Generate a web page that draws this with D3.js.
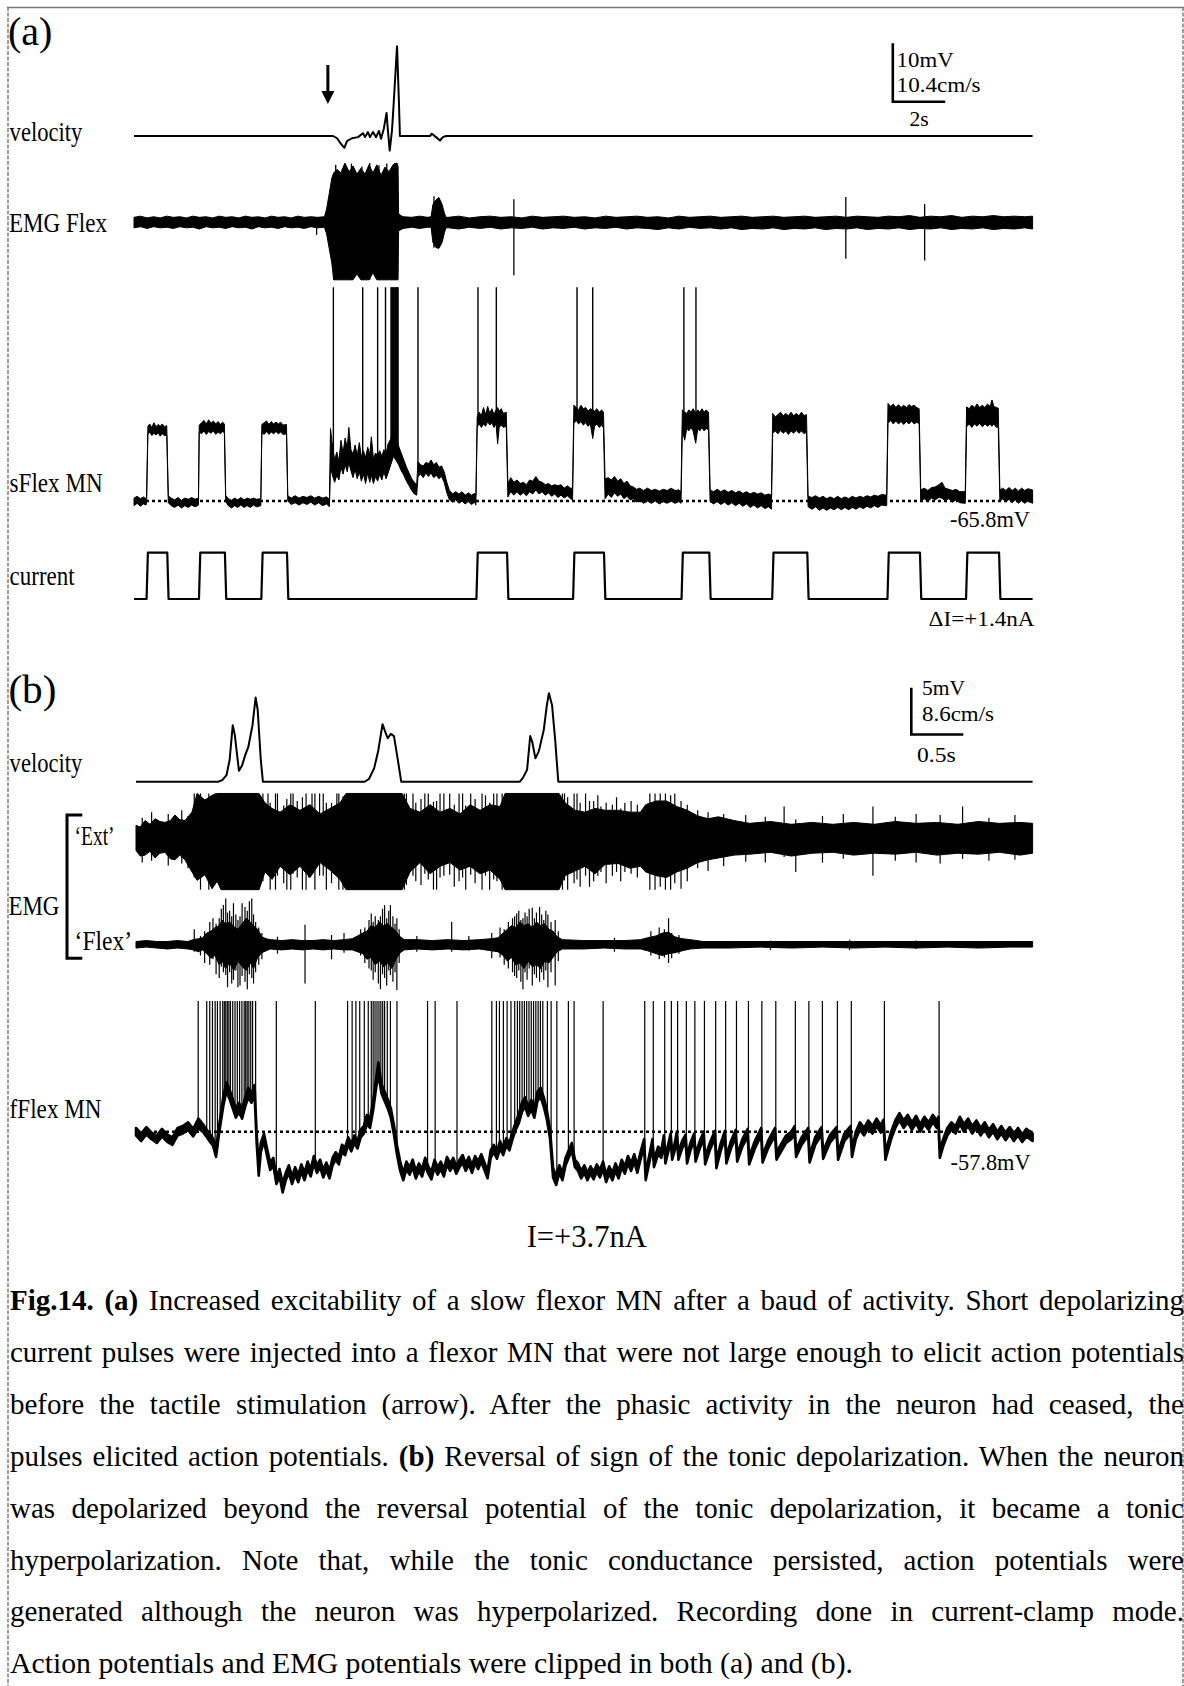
<!DOCTYPE html>
<html><head><meta charset="utf-8">
<script src="https://cdn.jsdelivr.net/npm/d3@7"></script>
<style>
html,body{margin:0;padding:0;background:#fff;}
svg{display:block;}
text{font-family:"Liberation Serif","Times New Roman",serif;fill:#000;}
</style></head><body>
<svg id="fig" width="1184" height="1686"></svg>
<script>
// ===================== DATA =====================
// Panel (a): time in s, membrane potential in mV, velocity in cm/s, current in nA
const durationA = 34.3;
const restA = -65.8;
const spikeClipA = -29.2;
const dIA = 1.4;
const stimTimeA = 7.40;
const barA_mV = 10, barA_vel = 10.4, barA_s = 2;

const velA = [[0,0],[7.60,0],[7.75,-0.4],[7.90,-1.4],[8.03,-2.1],[8.13,-0.9],[8.32,-0.4],[8.55,-0.2],[8.74,0.5],[8.82,-0.2],[8.93,0.7],[9.01,-0.2],[9.12,0.7],[9.24,-0.2],[9.35,0.9],[9.43,-0.5],[9.54,1.4],[9.64,4.1],[9.69,1.1],[9.76,-2.6],[9.85,1.1],[9.92,6.4],[10.04,16.0],[10.11,6.4],[10.15,0],[11.30,0],[11.37,0.4],[11.53,-0.2],[11.68,-0.8],[11.79,-0.2],[11.91,0],[34.3,0]];

const emgA = [[0.00,-1.0,0.8],[0.25,-0.8,1.0],[0.50,-1.1,0.7],[0.75,-0.8,0.9],[1.00,-1.0,0.7],[1.25,-0.9,1.0],[1.50,-1.1,0.8],[1.75,-0.8,0.9],[2.00,-1.0,0.7],[2.25,-0.9,1.0],[2.50,-1.2,0.8],[2.75,-0.8,0.9],[3.00,-1.0,0.7],[3.25,-0.9,1.0],[3.50,-1.1,0.8],[3.75,-0.8,0.9],[4.00,-1.0,0.7],[4.25,-0.9,1.0],[4.50,-1.2,0.8],[4.75,-0.8,0.9],[5.00,-1.0,0.7],[5.25,-0.9,1.0],[5.50,-1.1,0.8],[5.75,-0.8,0.9],[6.00,-1.0,0.7],[6.25,-0.9,1.0],[6.50,-1.1,0.8],[6.75,-0.8,0.9],[7.00,-1.0,0.8],[7.27,-0.9,0.9],
[7.35,-2.0,2.2],[7.45,-4.5,4.8],[7.55,-7.0,7.5],[7.62,-9.9,8.4],[7.75,-9.9,9.0],[7.90,-9.9,8.4],[8.05,-9.9,10.1],[8.21,-9.9,8.6],[8.36,-9.9,9.6],[8.51,-8.9,8.2],[8.66,-9.9,9.2],[8.82,-9.9,8.2],[8.97,-9.9,9.8],[9.12,-8.7,8.4],[9.27,-9.9,9.8],[9.43,-9.9,8.0],[9.58,-9.9,9.4],[9.73,-9.9,8.6],[9.89,-9.9,9.8],[10.04,-9.9,10.1],[10.08,-9.9,9.5],
[10.10,-1.6,1.5],[10.15,-1.4,1.2],[10.27,-1.1,0.9],[10.6,-0.9,0.8],[10.9,-1.1,1.0],[11.2,-0.9,0.8],[11.34,-0.9,0.9],
[11.41,-3.5,3.0],[11.53,-4.4,3.8],[11.64,-4.5,4.2],[11.76,-3.5,3.0],[11.85,-1.8,1.5],[11.91,-1.0,0.8],
[12.0,-1.0,0.8],[12.4,-1.2,1.0],[12.8,-0.9,0.7],[13.2,-1.1,0.9],[13.6,-0.9,1.0],[14.0,-1.2,0.8],[14.4,-1.0,0.9],[14.8,-1.1,0.7],[15.2,-0.9,1.0],[15.6,-1.2,0.8],[16.0,-1.0,0.9],[16.4,-1.1,1.0],[16.8,-0.9,0.8],[17.2,-1.2,0.9],[17.6,-1.0,0.7],[18.0,-1.1,1.0],[18.4,-0.9,0.8],[18.8,-1.2,0.9],[19.2,-1.0,1.0],[19.6,-1.1,0.8],[20.0,-1.3,0.9],[20.4,-1.0,0.7],[20.8,-1.2,1.0],[21.2,-0.9,0.8],[21.6,-1.1,0.9],[22.0,-1.0,1.0],[22.4,-1.2,0.8],[22.8,-1.0,0.9],[23.2,-1.3,1.0],[23.6,-1.1,0.8],[24.0,-1.2,0.9],[24.4,-1.0,1.0],[24.8,-1.3,0.8],[25.2,-1.1,0.9],[25.6,-1.2,1.0],[26.0,-1.0,0.8],[26.4,-1.3,0.9],[26.8,-1.1,1.0],[27.2,-1.2,0.8],[27.6,-1.0,1.0],[28.0,-1.3,0.9],[28.4,-1.1,0.8],[28.8,-1.2,1.0],[29.2,-1.0,0.9],[29.6,-1.3,1.1],[30.0,-1.1,0.8],[30.4,-1.2,1.0],[30.8,-1.0,0.9],[31.2,-1.3,1.1],[31.6,-1.1,0.8],[32.0,-1.2,1.0],[32.4,-1.0,0.9],[32.8,-1.3,1.1],[33.2,-1.1,0.9],[33.6,-1.2,1.0],[34.0,-1.0,0.9],[34.3,-1.2,1.0]];

const emgASpikes = [[6.97,-2.2,0.5],[7.70,-9.9,9.8],[7.95,-9.9,9.0],[8.30,-9.9,10.0],[8.70,-9.9,9.5],[9.00,-9.9,10.1],[9.35,-9.9,9.7],[9.65,-9.9,10.0],[9.95,-9.9,10.1],[11.45,-4.4,4.4],[14.50,-9.1,3.9],[27.17,-6.3,4.3],[30.18,-6.6,3.1]];

const sflexA = [[0.00,-66.6,-65.3],[0.12,-66.2,-65.0],[0.24,-66.7,-65.4],[0.36,-66.3,-65.1],[0.46,-66.5,-65.4],
[0.48,-66.2,-65.2],[0.53,-54.4,-53.0],[0.60,-54.0,-52.6],[0.68,-54.6,-53.2],[0.76,-54.2,-52.4],[0.84,-54.5,-53.1],[0.92,-54.1,-52.7],[1.00,-54.7,-53.0],[1.08,-54.3,-52.6],[1.16,-54.6,-53.1],[1.25,-54.5,-52.9],
[1.31,-66.1,-64.9],[1.42,-66.6,-65.3],[1.55,-66.9,-65.6],[1.68,-66.5,-65.2],[1.81,-67.0,-65.7],[1.94,-66.6,-65.3],[2.07,-66.9,-65.5],[2.20,-66.5,-65.2],[2.33,-66.8,-65.5],[2.46,-66.5,-65.3],
[2.49,-54.0,-52.8],[2.58,-54.3,-52.4],[2.67,-53.8,-52.0],[2.76,-54.4,-52.6],[2.85,-53.9,-51.9],[2.94,-54.2,-52.5],[3.03,-53.8,-52.1],[3.12,-54.4,-52.6],[3.21,-54.0,-52.2],[3.30,-54.3,-52.7],[3.38,-53.9,-52.3],[3.45,-54.1,-52.6],
[3.50,-65.9,-64.9],[3.60,-66.6,-65.4],[3.72,-67.0,-65.7],[3.84,-66.6,-65.3],[3.96,-66.9,-65.6],[4.08,-66.5,-65.2],[4.20,-66.9,-65.6],[4.32,-66.6,-65.3],[4.44,-66.9,-65.5],[4.56,-66.5,-65.3],[4.68,-66.8,-65.5],[4.84,-66.6,-65.4],
[4.88,-54.1,-52.7],[4.97,-54.4,-52.4],[5.06,-53.9,-52.1],[5.15,-54.4,-52.7],[5.24,-54.0,-52.2],[5.33,-54.3,-52.6],[5.42,-53.9,-52.3],[5.51,-54.3,-52.6],[5.60,-54.0,-52.3],[5.69,-54.4,-52.8],[5.82,-54.3,-52.7],
[5.87,-65.8,-64.9],[6.00,-66.4,-65.3],[6.15,-66.1,-64.9],[6.30,-66.5,-65.3],[6.45,-66.1,-65.0],[6.60,-66.4,-65.2],[6.75,-66.0,-64.9],[6.90,-66.5,-65.3],[7.05,-66.1,-65.0],[7.20,-66.6,-65.3],[7.35,-66.3,-65.1],[7.46,-66.8,-65.5],
[7.50,-60.0,-53.4],[7.58,-61.5,-56.5],[7.66,-62.6,-58.8],[7.74,-61.4,-57.4],[7.82,-62.2,-59.0],[7.90,-60.0,-55.4],[7.98,-61.2,-57.6],[8.06,-59.6,-55.0],[8.14,-60.8,-56.8],[8.20,-59.2,-53.2],[8.28,-60.6,-57.0],[8.36,-61.8,-57.8],[8.44,-60.4,-56.2],[8.52,-62.0,-58.0],[8.60,-60.8,-55.8],[8.68,-62.4,-58.2],[8.76,-61.2,-57.2],[8.84,-62.8,-58.4],[8.92,-61.0,-56.6],[9.00,-62.6,-57.8],[9.06,-61.4,-54.8],[9.14,-62.8,-58.6],[9.22,-61.6,-57.6],[9.30,-62.4,-58.0],[9.38,-61.2,-57.2],[9.46,-62.2,-58.2],[9.54,-60.8,-57.0],[9.62,-62.0,-57.8],[9.70,-61.0,-56.0],[9.80,-59.6,-55.2],[9.90,-58.2,-53.6],[10.00,-58.8,-54.4],[10.10,-59.6,-56.4],[10.20,-60.6,-57.6],[10.30,-61.4,-58.8],[10.40,-62.4,-60.0],[10.50,-63.2,-61.0],[10.60,-64.0,-62.0],[10.70,-64.6,-62.6],[10.79,-64.8,-63.0],
[10.84,-61.6,-59.1],[10.94,-61.2,-59.6],[11.04,-61.8,-59.8],[11.14,-61.0,-59.2],[11.24,-61.6,-59.4],[11.34,-61.0,-58.8],[11.44,-61.8,-59.6],[11.54,-61.4,-59.2],[11.64,-62.0,-60.0],[11.74,-61.6,-59.8],[11.84,-62.6,-60.8],[11.94,-64.4,-62.6],[12.04,-65.6,-64.0],[12.16,-66.0,-64.6],[12.28,-65.6,-64.2],[12.40,-66.2,-64.6],[12.52,-65.8,-64.2],[12.64,-66.3,-64.8],[12.76,-65.9,-64.4],[12.88,-66.4,-64.8],[13.00,-66.0,-64.5],[13.05,-66.5,-64.8],
[13.10,-53.1,-51.4],[13.18,-52.6,-50.6],[13.26,-53.2,-51.2],[13.34,-52.6,-49.8],[13.42,-53.0,-51.0],[13.50,-52.2,-49.6],[13.58,-52.8,-50.8],[13.66,-52.4,-50.0],[13.74,-53.2,-51.0],[13.82,-52.6,-50.2],[13.88,-56.0,-49.8],[13.94,-53.2,-50.4],[14.02,-52.8,-50.0],[14.10,-53.2,-50.8],[14.21,-53.0,-50.6],
[14.27,-65.1,-62.8],[14.38,-64.2,-61.8],[14.50,-64.8,-62.6],[14.62,-64.2,-62.2],[14.74,-64.8,-62.8],[14.86,-64.4,-62.6],[14.98,-64.9,-63.0],[15.10,-64.2,-62.2],[15.22,-64.6,-62.4],[15.34,-63.9,-61.6],[15.46,-64.6,-62.4],[15.58,-64.2,-62.6],[15.70,-64.8,-63.0],[15.82,-64.4,-62.8],[15.94,-65.0,-63.2],[16.06,-64.6,-63.0],[16.18,-65.2,-63.2],[16.30,-64.8,-63.0],[16.42,-65.3,-63.6],[16.54,-64.9,-63.2],[16.66,-65.4,-63.6],[16.74,-65.6,-63.6],
[16.79,-52.5,-49.4],[16.88,-52.0,-49.8],[16.97,-52.6,-50.2],[17.06,-52.2,-49.4],[17.15,-52.8,-50.0],[17.24,-52.4,-49.8],[17.33,-53.0,-50.4],[17.42,-52.6,-50.0],[17.51,-55.1,-50.2],[17.58,-53.0,-50.4],[17.67,-52.6,-50.0],[17.76,-53.2,-50.6],[17.85,-52.8,-50.2],[17.92,-53.3,-50.6],
[17.98,-65.4,-62.0],[18.10,-64.6,-61.8],[18.22,-65.2,-62.2],[18.34,-64.4,-61.6],[18.46,-65.0,-62.4],[18.58,-64.6,-62.0],[18.70,-65.4,-62.8],[18.82,-65.0,-62.4],[18.94,-65.6,-63.2],[19.06,-65.4,-63.4],[19.18,-66.0,-63.8],[19.30,-65.6,-63.6],[19.45,-66.2,-64.0],[19.60,-65.8,-63.6],[19.75,-66.2,-64.0],[19.90,-65.8,-63.8],[20.05,-66.3,-64.1],[20.20,-65.9,-63.8],[20.35,-66.2,-64.0],[20.50,-65.8,-63.6],[20.65,-66.2,-64.0],[20.80,-65.9,-63.9],[20.88,-66.2,-64.2],
[20.93,-53.6,-50.2],[21.02,-55.4,-50.6],[21.10,-53.4,-50.8],[21.18,-53.8,-50.2],[21.26,-53.2,-50.6],[21.34,-53.8,-50.0],[21.44,-55.9,-50.8],[21.52,-53.4,-50.2],[21.60,-53.8,-50.6],[21.68,-53.2,-50.0],[21.76,-53.8,-50.6],[21.84,-53.4,-50.2],[21.93,-53.6,-50.6],
[21.99,-65.9,-63.9],[22.12,-66.3,-64.2],[22.26,-65.9,-63.8],[22.40,-66.4,-64.2],[22.54,-66.0,-63.9],[22.68,-66.5,-64.3],[22.82,-66.1,-64.0],[22.96,-66.6,-64.4],[23.10,-66.2,-64.1],[23.24,-66.7,-64.5],[23.38,-66.3,-64.2],[23.52,-66.9,-64.6],[23.66,-66.5,-64.3],[23.80,-67.0,-64.6],[23.94,-66.6,-64.4],[24.08,-67.1,-64.8],[24.22,-66.8,-64.6],[24.33,-67.2,-64.8],
[24.38,-54.2,-50.8],[24.48,-53.8,-51.4],[24.58,-54.3,-51.0],[24.68,-53.7,-50.6],[24.78,-54.2,-51.2],[24.88,-53.8,-50.8],[24.98,-54.4,-51.2],[25.08,-53.8,-50.6],[25.18,-54.2,-51.2],[25.28,-53.7,-50.8],[25.38,-54.2,-51.2],[25.48,-53.8,-50.6],[25.58,-54.3,-51.2],[25.67,-54.0,-51.0],
[25.73,-66.8,-65.0],[25.88,-67.2,-65.2],[26.02,-66.8,-64.9],[26.16,-67.4,-65.3],[26.30,-67.0,-65.0],[26.44,-67.4,-65.4],[26.58,-67.0,-65.1],[26.72,-67.3,-65.4],[26.86,-66.9,-65.0],[27.00,-67.3,-65.4],[27.14,-66.9,-65.1],[27.28,-67.3,-65.4],[27.42,-66.9,-65.0],[27.56,-67.2,-65.3],[27.70,-66.8,-65.0],[27.84,-67.1,-65.2],[27.98,-66.7,-64.9],[28.12,-67.0,-65.1],[28.26,-66.6,-64.8],[28.40,-66.9,-65.0],[28.54,-66.5,-64.7],[28.73,-66.6,-64.8],
[28.78,-52.5,-49.1],[28.88,-52.0,-49.6],[28.98,-52.6,-49.2],[29.08,-52.1,-49.8],[29.18,-52.6,-49.3],[29.28,-52.2,-49.8],[29.38,-52.7,-49.4],[29.48,-52.2,-49.8],[29.58,-52.6,-49.3],[29.68,-52.1,-49.6],[29.78,-52.6,-49.4],[29.88,-52.3,-49.8],[29.97,-52.6,-50.0],
[30.03,-65.9,-63.9],[30.16,-65.4,-63.6],[30.30,-65.9,-64.0],[30.44,-65.3,-63.5],[30.58,-65.6,-63.4],[30.72,-65.2,-63.0],[30.84,-65.3,-62.6],[30.96,-65.8,-63.6],[31.10,-65.4,-63.8],[31.24,-66.0,-64.0],[31.38,-65.6,-63.8],[31.52,-66.1,-64.2],[31.73,-66.2,-64.2],
[31.78,-53.1,-49.7],[31.88,-52.6,-50.0],[31.98,-53.2,-49.4],[32.08,-52.6,-49.8],[32.18,-53.0,-49.2],[32.28,-52.5,-49.8],[32.38,-53.1,-49.4],[32.48,-52.6,-49.8],[32.58,-53.0,-49.2],[32.68,-52.6,-49.6],[32.75,-53.0,-48.5],[32.82,-52.6,-49.6],[32.92,-53.2,-49.8],[32.99,-53.1,-49.9],
[33.05,-65.9,-63.9],[33.16,-65.4,-63.6],[33.28,-66.0,-64.0],[33.40,-65.5,-63.5],[33.52,-66.1,-64.0],[33.64,-65.6,-63.6],[33.76,-66.2,-64.1],[33.88,-65.7,-63.6],[34.00,-66.2,-64.0],[34.12,-65.8,-63.7],[34.30,-66.2,-63.9]];

const sflexASpikes = [7.61,8.73,9.30,9.60,9.81,9.84,9.87,9.90,9.93,9.96,9.99,10.02,10.05,10.08,10.84,13.13,13.83,16.91,17.51,20.99,21.45];

const pulsesA = [[0.48,1.27],[2.48,3.47],[4.86,5.84],[13.07,14.24],[16.76,17.94],[20.90,21.96],[24.36,25.70],[28.76,30.00],[31.76,33.02]];

// Panel (b)
const durationB = 8.62;
const restB = -57.8;
const spikeClipB = -43.8;
const holdingB = 3.7;
const barB_mV = 5, barB_vel = 8.6, barB_s = 0.5;

const velB = [[0,0],[0.79,0],[0.83,0.3],[0.87,1.2],[0.90,4.0],[0.93,10.4],[0.95,8.6],[0.98,3.6],[0.99,2.0],[1.02,3.0],[1.05,4.9],[1.08,6.4],[1.12,10.4],[1.15,15.5],[1.17,13.2],[1.20,4.0],[1.22,0],
[2.20,0],[2.24,0.5],[2.29,2.5],[2.33,5.8],[2.37,10.6],[2.40,9.0],[2.42,8.0],[2.45,8.8],[2.48,8.4],[2.51,4.9],[2.55,0],
[3.69,0],[3.72,0.7],[3.76,2.2],[3.79,8.4],[3.81,7.3],[3.84,4.3],[3.87,5.5],[3.88,6.2],[3.92,9.5],[3.95,14.1],[3.97,16.3],[4.00,14.1],[4.03,7.7],[4.06,0],[8.62,0]];

const extB = [[0.000,-1.3,1.4],[0.040,-1.9,1.2],[0.087,-1.8,1.9],[0.135,-1.4,1.5],[0.183,-2.1,2.1],[0.230,-1.6,1.8],[0.279,-1.5,1.7],[0.330,-2.2,1.9],[0.375,-2.3,2.5],[0.420,-1.8,2.0],[0.471,-2.3,1.9],[0.538,-3.6,2.8],[0.587,-4.5,4.8],[0.663,-3.9,4.1],[0.731,-5.4,4.6],[0.780,-4.6,4.8],[0.817,-5.5,4.8],[1.183,-5.5,4.8],
[1.240,-3.6,3.8],[1.308,-4.4,3.2],[1.385,-3.0,2.8],[1.481,-3.9,3.6],[1.577,-3.0,3.0],[1.673,-4.2,3.6],[1.769,-2.6,2.6],[1.865,-3.4,3.2],[1.962,-4.4,3.8],[2.019,-5.5,4.8],[2.558,-5.5,4.8],
[2.635,-3.6,3.2],[2.731,-2.6,2.8],[2.827,-3.8,3.6],[2.923,-3.0,2.8],[3.019,-2.6,3.2],[3.115,-3.4,2.6],[3.212,-3.0,3.6],[3.308,-3.8,3.0],[3.404,-3.4,3.6],[3.500,-4.4,3.4],[3.548,-5.5,4.8],[4.067,-5.5,4.8],
[4.125,-4.0,3.8],[4.221,-3.5,3.0],[4.317,-3.0,2.8],[4.413,-3.8,3.2],[4.510,-2.8,3.0],[4.635,-2.7,3.0],[4.750,-3.2,2.8],[4.85,-3.0,2.8],[4.90,-3.6,3.6],[5.00,-4.0,4.0],[5.10,-4.2,4.0],[5.20,-3.6,3.4],[5.30,-3.2,3.0],[5.40,-2.6,2.4],[5.50,-2.3,2.1],[5.60,-2.1,2.3],[5.75,-1.8,1.9],
[5.90,-1.7,1.6],[6.10,-1.5,1.8],[6.30,-1.9,1.5],[6.50,-1.6,1.7],[6.70,-1.5,1.5],[6.90,-1.8,1.7],[7.10,-1.6,1.5],[7.30,-1.7,1.8],[7.50,-1.5,1.6],[7.70,-1.8,1.7],[7.90,-1.6,1.5],[8.10,-1.7,1.8],[8.30,-1.5,1.6],[8.50,-1.8,1.7],[8.62,-1.6,1.6]];

const extBSpikes = [[0.06,-2.6,2.2],[0.15,-2.4,2.8],[0.31,-2.9,2.6],[0.44,-2.7,3.0],[0.50,-3.2,2.4],[0.56,-4.2,4.8],[0.62,-5.5,4.8],[0.70,-5.5,4.8],[0.76,-4.8,4.8],
[1.22,-4.6,4.8],[1.269,-3.0,4.8],[1.29,-5.5,3.8],[1.341,-5.5,4.8],[1.36,-4.0,4.8],[1.42,-4.8,3.5],[1.45,-5.5,4.2],[1.488,-5.5,4.8],[1.51,-3.8,4.8],[1.55,-4.2,4.0],[1.60,-5.5,4.4],[1.635,-5.5,4.8],[1.66,-4.2,3.6],[1.692,-3.5,4.8],[1.72,-5.5,4.8],[1.765,-4.0,4.8],[1.80,-4.0,4.8],[1.83,-5.5,3.8],[1.88,-4.8,3.8],[1.931,-4.0,4.8],[1.95,-5.5,4.8],[1.99,-5.5,4.5],
[2.58,-5.5,4.8],[2.60,-5.0,4.8],[2.663,-4.0,4.8],[2.69,-4.6,3.8],[2.74,-5.0,4.2],[2.777,-3.8,4.8],[2.81,-4.4,4.8],[2.86,-5.5,3.9],[2.89,-5.5,4.0],[2.923,-4.2,4.8],[2.96,-4.0,4.8],[3.016,-3.9,4.8],[3.06,-5.2,3.6],[3.106,-4.6,4.8],[3.14,-4.2,4.8],[3.17,-5.5,3.5],[3.218,-3.9,4.8],[3.26,-4.8,4.2],[3.327,-5.5,4.8],[3.36,-4.0,4.6],[3.40,-5.5,3.8],[3.439,-4.4,4.8],[3.47,-4.6,4.8],[3.52,-5.5,4.8],
[4.10,-5.5,4.8],[4.120,-4.5,4.8],[4.15,-5.5,4.4],[4.212,-4.8,4.8],[4.24,-4.4,4.8],[4.27,-5.2,3.8],[4.322,-4.0,4.8],[4.36,-5.2,4.0],[4.40,-4.6,4.0],[4.44,-4.0,4.6],[4.47,-3.6,3.4],[4.52,-4.8,3.8],[4.58,-4.0,3.6],[4.62,-3.6,4.4],[4.66,-4.6,3.2],[4.70,-3.6,3.8],[4.76,-3.8,4.0],[4.82,-4.2,3.6],
[4.94,-5.5,4.8],[4.99,-5.5,4.8],[5.04,-5.2,4.8],[5.09,-5.5,4.8],[5.14,-5.5,4.6],[5.18,-4.8,4.8],[5.24,-5.4,4.0],[5.30,-4.6,3.6],
[5.40,-3.2,3.0],[5.50,-3.5,2.8],[5.65,-3.0,2.6],[5.862,-2.5,2.5],[6.05,-2.6,2.3],[6.231,-2.0,3.4],[6.343,-3.6,2.0],[6.60,-2.6,2.4],[6.80,-2.2,2.6],[7.085,-4.0,3.4],[7.30,-2.4,2.3],[7.50,-2.6,2.6],[7.731,-2.7,2.5],[7.947,-2.2,3.4],[8.20,-2.4,2.2],[8.45,-2.3,2.5]];

const flexB = [[0.00,-0.4,0.3],[0.10,-0.3,0.4],[0.20,-0.4,0.3],[0.30,-0.5,0.3],[0.40,-0.4,0.4],[0.50,-0.5,0.3],[0.55,-0.6,0.5],[0.60,-0.8,0.6],[0.64,-0.6,0.7],
[0.68,-1.0,1.2],[0.72,-1.5,1.4],[0.76,-1.2,1.8],[0.80,-2.2,2.0],[0.83,-1.8,2.6],[0.86,-2.6,2.2],[0.90,-2.0,2.4],[0.94,-2.8,1.9],[0.98,-1.8,1.6],[1.02,-2.4,2.2],[1.06,-2.8,2.8],[1.10,-2.0,2.4],[1.13,-2.6,2.0],[1.17,-1.4,1.6],[1.21,-0.9,0.8],[1.25,-0.7,0.6],[1.29,-0.5,0.5],
[1.40,-0.6,0.4],[1.50,-0.5,0.5],[1.60,-0.6,0.4],[1.70,-0.5,0.4],[1.80,-0.6,0.5],[1.90,-0.5,0.4],[2.00,-0.6,0.5],[2.08,-0.6,0.6],[2.13,-0.8,0.9],
[2.18,-1.0,1.2],[2.22,-1.6,1.4],[2.26,-1.4,2.0],[2.30,-2.2,1.8],[2.34,-1.8,2.4],[2.38,-2.4,2.0],[2.42,-2.0,2.2],[2.46,-2.6,1.8],[2.50,-1.6,1.4],[2.54,-0.9,0.8],[2.58,-0.6,0.5],
[2.70,-0.5,0.5],[2.85,-0.6,0.4],[3.00,-0.5,0.5],[3.15,-0.6,0.4],[3.30,-0.5,0.5],[3.42,-0.7,0.6],[3.48,-0.8,0.7],
[3.53,-1.2,1.2],[3.57,-1.8,1.6],[3.61,-1.4,2.0],[3.65,-2.2,1.8],[3.69,-2.0,2.4],[3.73,-2.6,2.0],[3.77,-1.8,2.2],[3.81,-2.4,1.8],[3.85,-2.2,2.4],[3.89,-2.6,2.0],[3.93,-1.8,2.2],[3.97,-2.0,1.6],[4.01,-1.4,1.4],[4.05,-0.8,0.8],[4.10,-0.5,0.5],
[4.30,-0.5,0.4],[4.50,-0.4,0.4],[4.70,-0.5,0.4],[4.85,-0.5,0.5],[4.92,-0.7,0.7],[5.00,-1.0,0.9],[5.06,-1.2,1.2],[5.12,-1.0,1.3],[5.18,-0.9,0.8],[5.25,-0.7,0.6],[5.33,-0.5,0.5],[5.45,-0.4,0.3],
[5.70,-0.4,0.3],[6.00,-0.3,0.3],[6.30,-0.4,0.3],[6.60,-0.3,0.3],[6.90,-0.4,0.3],[7.20,-0.3,0.3],[7.50,-0.4,0.3],[7.80,-0.3,0.3],[8.10,-0.4,0.3],[8.40,-0.3,0.3],[8.62,-0.3,0.3]];

const flexBSpikes = [[0.56,-0.8,1.6],[0.62,-1.2,0.9],[0.66,-2.0,1.4],[0.709,-2.2,2.4],[0.74,-1.6,2.8],[0.77,-3.2,2.2],[0.80,-3.6,2.8],[0.82,-2.4,3.8],[0.84,-3.0,4.2],[0.863,-3.3,4.9],[0.88,-4.6,3.4],[0.90,-3.0,3.6],[0.92,-4.2,3.0],[0.937,-3.8,4.4],[0.96,-2.8,3.2],[0.98,-4.6,2.6],[1.00,-4.4,3.0],[1.02,-3.4,4.4],[1.048,-4.0,4.0],[1.07,-4.8,3.6],[1.09,-3.2,4.6],[1.113,-3.6,4.9],[1.13,-4.2,3.2],[1.15,-3.0,2.4],[1.18,-2.2,1.8],[1.21,-1.6,1.2],
[1.36,-1.0,0.8],[1.625,-4.2,2.1],[1.88,-1.6,1.0],[2.00,-0.9,1.2],
[2.16,-1.2,1.6],[2.20,-2.0,1.8],[2.24,-2.6,2.6],[2.262,-2.8,3.3],[2.28,-3.8,2.4],[2.30,-3.0,3.0],[2.33,-4.2,2.6],[2.35,-4.8,3.0],[2.37,-3.2,3.8],[2.39,-3.6,4.2],[2.41,-4.4,2.8],[2.43,-2.8,3.6],[2.446,-3.3,4.2],[2.47,-4.0,3.0],[2.49,-3.0,2.2],[2.508,-4.9,2.8],[2.53,-2.0,1.6],
[2.70,-0.8,0.9],[3.035,-0.8,2.4],[3.20,-0.7,0.9],[3.42,-1.5,1.2],
[3.50,-1.4,1.8],[3.54,-2.2,1.6],[3.58,-2.6,2.4],[3.62,-3.0,2.8],[3.64,-3.4,3.0],[3.66,-3.6,3.3],[3.68,-2.8,3.6],[3.70,-4.0,2.6],[3.72,-4.8,2.8],[3.74,-3.0,3.4],[3.76,-3.8,3.0],[3.78,-2.6,3.8],[3.81,-4.4,3.9],[3.83,-3.2,2.8],[3.85,-3.6,3.4],[3.88,-4.0,4.0],[3.90,-3.0,3.2],[3.92,-3.8,2.6],[3.94,-2.8,3.6],[3.96,-4.6,3.2],[3.99,-3.0,2.4],[4.03,-4.4,2.6],[4.06,-1.8,1.4],
[4.60,-0.8,0.7],[4.95,-1.2,1.4],[5.03,-1.6,1.8],[5.08,-1.4,1.6],[5.12,-2.0,2.8],[5.15,-1.5,1.2],[5.22,-1.0,1.0],[6.10,-0.6,0.4],[6.86,-0.6,0.5],[7.50,-0.5,0.4]];

const fflexB = [[0.00,-58.2,-57.4],[0.05,-58.8,-58.0],[0.10,-58.1,-57.3],[0.15,-58.6,-57.9],[0.20,-59.0,-58.2],[0.25,-58.3,-57.5],[0.30,-58.9,-58.1],[0.35,-59.2,-58.4],[0.40,-58.2,-57.4],[0.45,-58.0,-57.2],[0.50,-57.6,-56.8],[0.55,-58.3,-57.5],[0.60,-57.4,-56.4],[0.65,-57.9,-57.1],[0.70,-58.7,-57.9],[0.74,-59.3,-58.5],[0.77,-60.5,-59.5],[0.80,-57.9,-57.1],
[0.84,-55.0,-54.0],[0.87,-53.5,-52.5],[0.90,-54.3,-53.3],[0.93,-55.3,-54.3],[0.96,-56.3,-55.3],[0.99,-55.7,-54.7],[1.02,-56.4,-55.4],[1.05,-55.1,-54.1],[1.08,-54.1,-53.1],[1.11,-54.7,-53.7],[1.14,-53.8,-52.8],[1.16,-59.0,-58.0],[1.18,-62.5,-61.5],[1.20,-60.0,-59.0],[1.23,-58.8,-58.0],[1.26,-60.4,-59.6],[1.29,-61.9,-61.1],[1.32,-61.4,-60.6],[1.35,-63.4,-62.6],[1.38,-62.6,-61.8],[1.41,-64.3,-63.3],[1.44,-63.0,-62.2],[1.47,-62.2,-61.4],[1.50,-63.4,-62.6],[1.53,-62.4,-61.6],[1.56,-63.2,-62.4],[1.59,-62.1,-61.3],[1.62,-63.0,-62.2],[1.65,-61.8,-61.0],[1.68,-62.6,-61.8],[1.71,-61.2,-60.4],[1.74,-62.2,-61.4],[1.77,-61.6,-60.8],[1.80,-62.7,-61.9],[1.83,-61.9,-61.1],[1.86,-62.8,-62.0],[1.89,-61.4,-60.6],[1.92,-60.8,-60.0],[1.95,-61.3,-60.5],[1.98,-60.0,-59.2],[2.01,-60.3,-59.5],[2.04,-59.2,-58.4],[2.07,-59.9,-59.1],[2.10,-59.0,-58.2],[2.13,-59.6,-58.8],[2.16,-58.4,-57.6],[2.19,-58.0,-57.2],[2.22,-57.0,-56.0],[2.25,-57.4,-56.4],[2.28,-55.5,-54.5],[2.31,-53.0,-52.0],[2.33,-51.6,-50.4],[2.36,-53.7,-52.7],[2.39,-54.5,-53.5],[2.42,-55.3,-54.3],[2.45,-56.3,-55.3],[2.48,-58.1,-57.1],[2.51,-60.3,-59.3],[2.54,-62.0,-61.0],[2.57,-63.0,-62.2],
[2.60,-61.8,-61.0],[2.63,-62.4,-61.6],[2.66,-61.6,-60.8],[2.69,-62.8,-62.0],[2.72,-62.0,-61.2],[2.75,-62.6,-61.8],[2.78,-61.4,-60.6],[2.81,-62.3,-61.5],[2.84,-62.9,-62.1],[2.87,-61.6,-60.8],[2.90,-62.4,-61.6],[2.93,-61.8,-61.0],[2.96,-62.6,-61.8],[2.99,-61.3,-60.5],[3.02,-62.0,-61.2],[3.05,-61.4,-60.6],[3.08,-62.3,-61.5],[3.11,-61.6,-60.8],[3.14,-61.1,-60.3],[3.17,-62.0,-61.2],[3.20,-61.3,-60.5],[3.23,-62.2,-61.4],[3.26,-61.2,-60.4],[3.29,-61.8,-61.0],[3.32,-61.0,-60.2],[3.35,-61.9,-61.1],[3.38,-62.8,-62.0],[3.41,-60.6,-59.8],[3.44,-60.0,-59.2],[3.47,-60.7,-59.9],[3.50,-59.6,-58.8],[3.53,-60.3,-59.5],[3.56,-59.3,-58.5],[3.59,-59.8,-59.0],[3.62,-58.6,-57.8],[3.65,-57.6,-56.8],[3.68,-56.9,-55.9],[3.71,-55.7,-54.7],[3.74,-55.1,-54.1],[3.77,-56.1,-55.1],[3.80,-55.4,-54.4],[3.83,-56.3,-55.3],[3.86,-54.5,-53.5],[3.89,-54.1,-53.1],[3.92,-55.1,-54.1],[3.95,-56.5,-55.5],[3.98,-58.5,-57.5],[4.01,-62.7,-61.7],[4.04,-63.5,-62.5],[4.07,-62.2,-61.4],[4.10,-63.0,-62.2],[4.13,-61.4,-60.6],[4.16,-60.6,-59.8],[4.19,-59.8,-59.0],[4.22,-61.6,-60.8],[4.25,-62.0,-61.2],[4.28,-62.8,-62.0],[4.31,-62.2,-61.4],[4.34,-63.0,-62.2],[4.37,-62.3,-61.5],[4.40,-62.9,-62.1],[4.43,-62.1,-61.3],[4.46,-62.7,-61.9],[4.49,-61.8,-61.0],[4.52,-63.2,-62.4],[4.55,-62.3,-61.5],[4.58,-63.0,-62.2],[4.61,-62.0,-61.2],[4.64,-62.8,-62.0],[4.67,-61.6,-60.8],[4.70,-62.3,-61.5],[4.73,-61.2,-60.4],[4.76,-62.0,-61.2],[4.79,-61.0,-60.2],[4.82,-62.2,-61.4],[4.85,-60.8,-60.0],[4.885,-59.4,-58.6],
[4.900,-63.0,-62.2],[4.93,-61.4,-60.6],[4.965,-59.4,-58.6],[4.980,-61.6,-60.8],[5.02,-60.2,-59.4],[5.05,-60.6,-59.8],[5.075,-59.0,-58.2],[5.090,-61.2,-60.4],[5.12,-59.8,-59.0],[5.140,-58.8,-58.0],[5.155,-60.8,-60.0],[5.18,-59.8,-59.0],[5.200,-58.6,-57.8],[5.215,-60.8,-60.0],[5.25,-59.6,-58.8],[5.284,-58.9,-58.1],[5.298,-61.2,-60.4],[5.33,-59.8,-59.0],[5.366,-58.8,-58.0],[5.380,-61.0,-60.2],[5.42,-59.6,-58.8],[5.458,-58.6,-57.8],[5.472,-61.3,-60.5],[5.52,-59.7,-58.9],[5.566,-58.5,-57.7],[5.580,-61.7,-60.9],[5.62,-59.9,-59.1],[5.662,-58.5,-57.7],[5.676,-61.2,-60.4],[5.72,-59.6,-58.8],[5.766,-58.4,-57.6],[5.780,-61.0,-60.2],[5.83,-59.4,-58.6],[5.881,-58.3,-57.5],[5.895,-61.3,-60.5],[5.95,-59.6,-58.8],[6.010,-58.2,-57.4],[6.024,-61.1,-60.3],[6.08,-59.5,-58.7],[6.144,-58.2,-57.4],[6.158,-60.8,-60.0],[6.25,-59.0,-58.2],[6.30,-58.6,-57.8],[6.332,-58.0,-57.2],[6.346,-60.5,-59.7],[6.40,-59.2,-58.4],[6.462,-58.2,-57.4],[6.476,-61.1,-60.3],[6.53,-59.2,-58.4],[6.592,-58.1,-57.3],[6.606,-60.7,-59.9],[6.67,-59.0,-58.2],[6.736,-58.1,-57.3],[6.750,-60.8,-60.0],[6.81,-58.8,-58.0],[6.870,-58.0,-57.2],[6.884,-60.5,-59.7],
[6.92,-58.6,-57.8],[6.96,-57.6,-56.8],[7.00,-58.2,-57.4],[7.04,-57.4,-56.6],[7.08,-58.0,-57.2],[7.12,-57.2,-56.4],[7.16,-57.9,-57.1],[7.188,-57.3,-56.5],[7.205,-60.8,-60.0],[7.23,-59.8,-59.0],[7.26,-58.6,-57.8],[7.30,-57.4,-56.6],[7.34,-56.6,-55.8],[7.38,-57.4,-56.6],[7.42,-56.8,-56.0],[7.46,-57.6,-56.8],[7.50,-56.9,-56.1],[7.54,-57.8,-57.0],[7.58,-57.0,-56.2],[7.62,-57.6,-56.8],[7.66,-56.8,-56.0],[7.70,-57.4,-56.6],[7.714,-57.0,-56.2],[7.728,-60.6,-59.8],[7.76,-59.4,-58.6],[7.80,-58.2,-57.4],[7.84,-57.6,-56.8],[7.88,-58.0,-57.2],[7.92,-57.0,-56.2],[7.96,-57.8,-57.0],[8.00,-57.2,-56.4],[8.04,-58.0,-57.2],[8.08,-57.4,-56.6],[8.12,-58.2,-57.4],[8.16,-57.6,-56.8],[8.20,-58.4,-57.6],[8.24,-57.8,-57.0],[8.28,-58.6,-57.8],[8.32,-58.0,-57.2],[8.36,-58.7,-57.9],[8.40,-58.1,-57.3],[8.44,-58.8,-58.0],[8.48,-58.2,-57.4],[8.52,-58.9,-58.1],[8.56,-58.3,-57.5],[8.62,-58.8,-58.0]];

const fflexBSpikes = [0.598,0.680,0.709,0.735,0.761,0.783,0.809,0.834,0.849,0.863,0.878,0.893,0.908,0.930,0.952,0.974,0.996,1.018,1.040,1.055,1.069,1.085,1.103,1.121,1.150,1.349,1.724,
2.034,2.078,2.114,2.151,2.195,2.233,2.262,2.280,2.298,2.317,2.336,2.354,2.372,2.390,2.416,2.446,2.509,2.803,2.876,3.086,
3.421,3.465,3.494,3.532,3.568,3.605,3.641,3.667,3.689,3.712,3.734,3.756,3.778,3.800,3.822,3.844,3.866,3.888,3.911,3.955,3.991,4.046,4.157,4.212,
4.491,4.891,4.973,5.083,5.147,5.207,5.291,5.373,5.465,5.573,5.669,5.773,5.888,6.017,6.151,6.339,6.469,6.599,6.743,6.877,7.195,7.721];

// Text
const panelLabels = ["(a)", "(b)"];
const traceLabelsA = ["velocity", "EMG Flex", "sFlex MN", "current"];
const traceLabelsB = ["velocity", "\u2018Ext\u2019", "EMG", "\u2018Flex\u2019", "fFlex MN"];
const captionLines = [
  [["Fig.14. (a)", true], [" Increased excitability of a slow flexor MN after a baud of activity. Short depolarizing", false]],
  [["current pulses were injected into a flexor MN that were not large enough to elicit action potentials", false]],
  [["before the tactile stimulation (arrow). After the phasic activity in the neuron had ceased, the", false]],
  [["pulses elicited action potentials. ", false], ["(b)", true], [" Reversal of sign of the tonic depolarization. When the neuron", false]],
  [["was depolarized beyond the reversal potential of the tonic depolarization, it became a tonic", false]],
  [["hyperpolarization. Note that, while the tonic conductance persisted, action potentials were", false]],
  [["generated although the neuron was hyperpolarized. Recording done in current-clamp mode.", false]],
  [["Action potentials and EMG potentials were clipped in both (a) and (b).", false]]
];

// ===================== RENDER =====================
const svg = d3.select("#fig");
svg.append("rect").attr("width",1184).attr("height",1686).attr("fill","#fff");

svg.append("line").attr("x1",7).attr("x2",1184).attr("y1",7.5).attr("y2",7.5).attr("stroke","#777").attr("stroke-width",1.6);
svg.append("line").attr("x1",8).attr("x2",8).attr("y1",7).attr("y2",1686).attr("stroke","#777").attr("stroke-width",1.4).attr("stroke-dasharray","4,1.5");
svg.append("line").attr("x1",1183).attr("x2",1183).attr("y1",7).attr("y2",1686).attr("stroke","#777").attr("stroke-width",1.4).attr("stroke-dasharray","4,1.5");

function label(txt, x, y, size, width) {
  const t = svg.append("text").attr("x", x).attr("y", y).attr("font-size", size).text(txt);
  if (width) t.attr("textLength", width).attr("lengthAdjust", "spacingAndGlyphs");
  return t;
}
const bis = d3.bisector(d => d[0]).left;
function midAt(env, t) {
  let i = bis(env, t);
  if (i <= 0) return (env[0][1] + env[0][2]) / 2;
  if (i >= env.length) { const e = env[env.length-1]; return (e[1]+e[2])/2; }
  const a = env[i-1], b = env[i], f = (t - a[0]) / (b[0] - a[0]);
  return ((a[1]+a[2])/2) * (1-f) + ((b[1]+b[2])/2) * f;
}
function band(env, x, y, sw) {
  svg.append("path").datum(env)
    .attr("d", d3.area().x(d => x(d[0])).y0(d => y(d[1])).y1(d => y(d[2])))
    .attr("fill", "#000").attr("stroke", "#000").attr("stroke-width", sw || 1).attr("stroke-linejoin","round");
}
function bars(list, x, y, w) {
  svg.append("g").selectAll("line").data(list).join("line")
    .attr("x1", d => x(d[0])).attr("x2", d => x(d[0]))
    .attr("y1", d => y(d[1])).attr("y2", d => y(d[2]))
    .attr("stroke", "#000").attr("stroke-width", w || 1.1);
}
function spikes(times, env, x, y, clip, w) {
  svg.append("g").selectAll("line").data(times).join("line")
    .attr("x1", d => x(d)).attr("x2", d => x(d))
    .attr("y1", d => y(midAt(env, d))).attr("y2", y(clip))
    .attr("stroke", "#000").attr("stroke-width", w || 1.3);
}
function trace(data, x, y, w) {
  svg.append("path").datum(data)
    .attr("d", d3.line().x(d => x(d[0])).y(d => y(d[1])))
    .attr("fill", "none").attr("stroke", "#000").attr("stroke-width", w).attr("stroke-linejoin","round");
}
function dotted(x0, x1, yv) {
  svg.append("line").attr("x1", x0).attr("x2", x1).attr("y1", yv).attr("y2", yv)
    .attr("stroke", "#000").attr("stroke-width", 2.6).attr("stroke-dasharray", "3,3");
}

// ---------- Panel (a) ----------
const pxPerUnitA = 58.4;
const xA = d3.scaleLinear().domain([0, durationA]).range([134, 1032.6]);
const yVelA = d3.scaleLinear().domain([0, barA_vel]).range([136, 136 - pxPerUnitA]);
const yEmgA = d3.scaleLinear().domain([0, barA_mV]).range([222, 222 - pxPerUnitA]);
const ySfA = d3.scaleLinear().domain([restA, restA + barA_mV]).range([501, 501 - pxPerUnitA]);
const yCurA = d3.scaleLinear().domain([0, dIA]).range([599, 552.7]);

label(panelLabels[0], 8, 44.5, 40);
label(traceLabelsA[0], 9.6, 141, 27, 72.7);
label(traceLabelsA[1], 9, 232.3, 27, 98);
label(traceLabelsA[2], 9.6, 491.7, 27, 93);
label(traceLabelsA[3], 9.6, 585, 27, 65);

{
  const ax = xA(stimTimeA);
  svg.append("line").attr("x1", ax).attr("x2", ax).attr("y1", 65).attr("y2", 93).attr("stroke", "#000").attr("stroke-width", 3);
  svg.append("path").attr("d", `M${ax-6.5},91 L${ax+6.5},91 L${ax},104 Z`).attr("fill", "#000");
}

{
  const cx = 892.8, cy = 101.7;
  const vLen = ySfA(restA) - ySfA(restA + barA_mV);
  const hLen = xA(barA_s) - xA(0);
  svg.append("path").attr("d", `M${cx},${cy - vLen} L${cx},${cy} L${cx + hLen},${cy}`)
    .attr("fill", "none").attr("stroke", "#000").attr("stroke-width", 2.6);
  label(`${barA_mV}mV`, 896.6, 66.7, 21, 57);
  label(`${barA_vel}cm/s`, 896.6, 91.7, 21, 84);
  label(`${barA_s}s`, 909.4, 126, 21, 19.2);
}

trace(velA, xA, yVelA, 2);
band(emgA, xA, yEmgA);
bars(emgASpikes, xA, yEmgA, 1.3);

dotted(134, 1032.6, ySfA(restA));
band(sflexA, xA, ySfA);
spikes(sflexASpikes, sflexA, xA, ySfA, spikeClipA, 1.4);
label(`${restA}mV`, 950, 526.7, 24, 80);

{
  const pts = [[0, 0]];
  pulsesA.forEach(([on, off]) => { pts.push([on, 0], [on + 0.05, dIA], [off, dIA], [off + 0.05, 0]); });
  pts.push([durationA, 0]);
  trace(pts, xA, yCurA, 2.2);
  label(`\u0394I=+${dIA}nA`, 928.6, 626, 22, 106);
}

// ---------- Panel (b) ----------
const xB = d3.scaleLinear().domain([0, durationB]).range([136, 1032.6]);
const pxPerUnitB = 46.7;
const yVelB = d3.scaleLinear().domain([0, barB_vel]).range([781.7, 781.7 - pxPerUnitB]);
const yExtB = d3.scaleLinear().domain([0, barB_mV]).range([838.3, 838.3 - pxPerUnitB]);
const yFlexB = d3.scaleLinear().domain([0, barB_mV]).range([944.3, 944.3 - pxPerUnitB]);
const yFfB = d3.scaleLinear().domain([restB, restB + barB_mV]).range([1131.7, 1131.7 - pxPerUnitB]);

label(panelLabels[1], 8.4, 703, 40, 48);
label(traceLabelsB[0], 9.6, 771.7, 27, 72.7);
label(traceLabelsB[1], 74.6, 845, 27, 40);
label(traceLabelsB[2], 8.4, 915, 27, 51);
label(traceLabelsB[3], 74.6, 950, 27, 57.4);
label(traceLabelsB[4], 9.6, 1118.3, 27, 92);

svg.append("path").attr("d", "M82.3,815 L67,815 L67,958.3 L82.3,958.3")
  .attr("fill", "none").attr("stroke", "#000").attr("stroke-width", 3);

{
  const cx = 911.3, cy = 734.5;
  const vLen = yFfB(restB) - yFfB(restB + barB_mV);
  const hLen = xB(barB_s) - xB(0);
  svg.append("path").attr("d", `M${cx},${cy - vLen} L${cx},${cy} L${cx + hLen},${cy}`)
    .attr("fill", "none").attr("stroke", "#000").attr("stroke-width", 2.6);
  label(`${barB_mV}mV`, 922, 695, 21, 43);
  label(`${barB_vel}cm/s`, 922, 720.7, 21, 72);
  label(`${barB_s}s`, 917, 761.7, 21, 38.6);
}

trace(velB, xB, yVelB, 2);
band(extB, xB, yExtB);
bars(extBSpikes, xB, yExtB, 1.2);
band(flexB, xB, yFlexB);
bars(flexBSpikes, xB, yFlexB, 1.2);

dotted(136, 1032.6, yFfB(restB));
band(fflexB, xB, yFfB, 2.6);
spikes(fflexBSpikes, fflexB, xB, yFfB, spikeClipB, 1.2);
label(`${restB}mV`, 950.6, 1170, 24, 80);
label(`I=+${holdingB}nA`, 526.7, 1246.7, 32, 120);

// ---------- Caption ----------
{
  const x0 = 10, target = 1174, base = 1310, step = 51.9, fs = 29;
  captionLines.forEach((parts, i) => {
    const t = svg.append("text").attr("x", x0).attr("y", base + i * step).attr("font-size", fs);
    parts.forEach(([s, bold]) => t.append("tspan").attr("font-weight", bold ? "bold" : "normal").text(s));
    const w = t.node().getComputedTextLength();
    if (i < captionLines.length - 1) {
      const full = parts.map(p => p[0]).join("");
      const spaces = (full.match(/ /g) || []).length;
      if (w < target && spaces) t.attr("word-spacing", (target - w) / spaces);
      else t.attr("textLength", target).attr("lengthAdjust", "spacingAndGlyphs");
    } else {
      t.attr("textLength", 843).attr("lengthAdjust", "spacingAndGlyphs");
    }
  });
}
</script>
</body></html>
